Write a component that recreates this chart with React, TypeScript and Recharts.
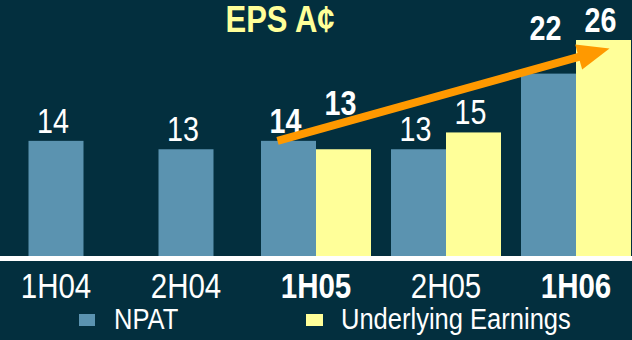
import React from "react"
import { BarChart, Bar, XAxis, YAxis, Legend, ReferenceLine } from "recharts"

const periods = ["1H04", "2H04", "1H05", "2H05", "1H06"]
const npatValues = [14, 13, 14, 13, 22]
const underlyingValues: (number | null)[] = [null, null, 13, 15, 26]
const boldPeriods = ["1H05", "1H06"]

// labels lifted clear of the trend arrow
const raisedNpat = ["1H06"]
const raisedUnderlying = ["1H05"]

const arrowFrom = { x: "1H05", y: 14 }
const arrowTo = { x: "1H06", y: 25 }

const seriesNames = { npat: "NPAT", ue: "Underlying Earnings" }

const BG = "#032f3e"
const NPAT_COLOR = "#5b93b0"
const UE_COLOR = "#ffff99"
const ARROW = "#ff9900"
const FONT = "'Liberation Sans', Arial, sans-serif"
const SQUEEZE = 0.82 // fake a narrow face
const BAR = 55

const data = periods.map((p, i) => ({
  period: p,
  npat: npatValues[i],
  ue: underlyingValues[i],
}))

const NarrowText = ({ x, y, bold, size, fill, children }: any) => (
  <text
    transform={`translate(${x} ${y}) scale(${SQUEEZE} 1)`}
    textAnchor="middle"
    fill={fill}
    fontFamily={FONT}
    fontSize={size}
    fontWeight={bold ? 700 : 400}
  >
    {children}
  </text>
)

const makeShape = (key: "npat" | "ue", color: string, raised: string[]) => (props: any) => {
  const { x, y, width, height, payload } = props
  // NPAT bars without a partner sit in the middle of the category
  const shift = key === "npat" && payload.ue == null ? width / 2 : 0
  const bold = boldPeriods.includes(payload.period)
  const gap = raised.includes(payload.period) ? 34 : 8
  return (
    <g>
      <rect x={x + shift} y={y} width={width} height={height} fill={color} />
      <NarrowText x={x + shift + width / 2 - 3} y={y - gap} bold={bold} size={35} fill="#fff">
        {payload[key]}
      </NarrowText>
    </g>
  )
}

const PeriodTick = (props: any) => {
  const { x, y, payload } = props
  const bold = boldPeriods.includes(payload.value)
  return (
    <NarrowText x={x} y={y + 39.5} bold={bold} size={36} fill="#fff">
      {payload.value}
    </NarrowText>
  )
}

const TrendArrow = (props: any) => {
  const { x1, y1, x2, y2 } = props
  const sx = x1 - BAR * 0.7
  const sy = y1
  const ex = x2 + BAR / 2 + 6
  const ey = y2
  const ang = Math.atan2(ey - sy, ex - sx)
  const headLen = 32
  const headHalf = 13
  const bx = ex - headLen * Math.cos(ang)
  const by = ey - headLen * Math.sin(ang)
  const px = -Math.sin(ang)
  const py = Math.cos(ang)
  return (
    <g>
      <line x1={sx} y1={sy} x2={bx + 2 * Math.cos(ang)} y2={by + 2 * Math.sin(ang)} stroke={ARROW} strokeWidth={8} />
      <polygon
        points={`${ex},${ey} ${bx + px * headHalf},${by + py * headHalf} ${bx - px * headHalf},${by - py * headHalf}`}
        fill={ARROW}
      />
    </g>
  )
}

const squeezed: React.CSSProperties = {
  position: "absolute",
  transform: "scaleX(0.88)",
  transformOrigin: "0 0",
  whiteSpace: "nowrap",
  lineHeight: "34px",
}

const LegendContent = () => (
  <div style={{ position: "relative", width: 632, height: 30, fontFamily: FONT, fontSize: 29, color: "#fff" }}>
    <div style={{ position: "absolute", left: 79, top: 8, width: 16, height: 12, background: NPAT_COLOR }} />
    <div style={{ ...squeezed, left: 114, top: -4 }}>{seriesNames.npat}</div>
    <div style={{ position: "absolute", left: 306, top: 8, width: 17, height: 12, background: UE_COLOR }} />
    <div style={{ ...squeezed, left: 341, top: -4 }}>{seriesNames.ue}</div>
  </div>
)

export default function App() {
  return (
    <div style={{ position: "absolute", left: 0, top: 0, width: 632, height: 340, background: BG, overflow: "hidden" }}>
      <div
        style={{
          position: "absolute",
          left: 0,
          top: 1,
          width: 560,
          textAlign: "center",
          fontFamily: FONT,
          fontWeight: 700,
          fontSize: 36,
          lineHeight: "38px",
          color: UE_COLOR,
          zIndex: 2,
          transform: "scaleX(0.86)",
          transformOrigin: "280px 0",
        }}
      >
        EPS A¢
      </div>
      <BarChart
        width={632}
        height={340}
        data={data}
        margin={{ top: 40, right: -9, bottom: 21.5, left: -9 }}
        barSize={BAR}
        barGap={0}
      >
        <XAxis
          dataKey="period"
          interval={0}
          height={60}
          tickLine={false}
          tickSize={0}
          tickMargin={0}
          axisLine={{ stroke: "#fff", strokeWidth: 5 }}
          tick={<PeriodTick />}
        />
        <YAxis hide domain={[0, 26]} />
        <Bar dataKey="npat" name={seriesNames.npat} fill={NPAT_COLOR} isAnimationActive={false} shape={makeShape("npat", NPAT_COLOR, raisedNpat)} />
        <Bar dataKey="ue" name={seriesNames.ue} fill={UE_COLOR} isAnimationActive={false} shape={makeShape("ue", UE_COLOR, raisedUnderlying)} />
        <ReferenceLine segment={[arrowFrom, arrowTo]} ifOverflow="visible" shape={<TrendArrow />} />
        <Legend
          layout="horizontal"
          verticalAlign="middle"
          content={<LegendContent />}
          wrapperStyle={{ position: "absolute", left: 0, top: 306, width: 632 }}
        />
      </BarChart>
    </div>
  )
}
